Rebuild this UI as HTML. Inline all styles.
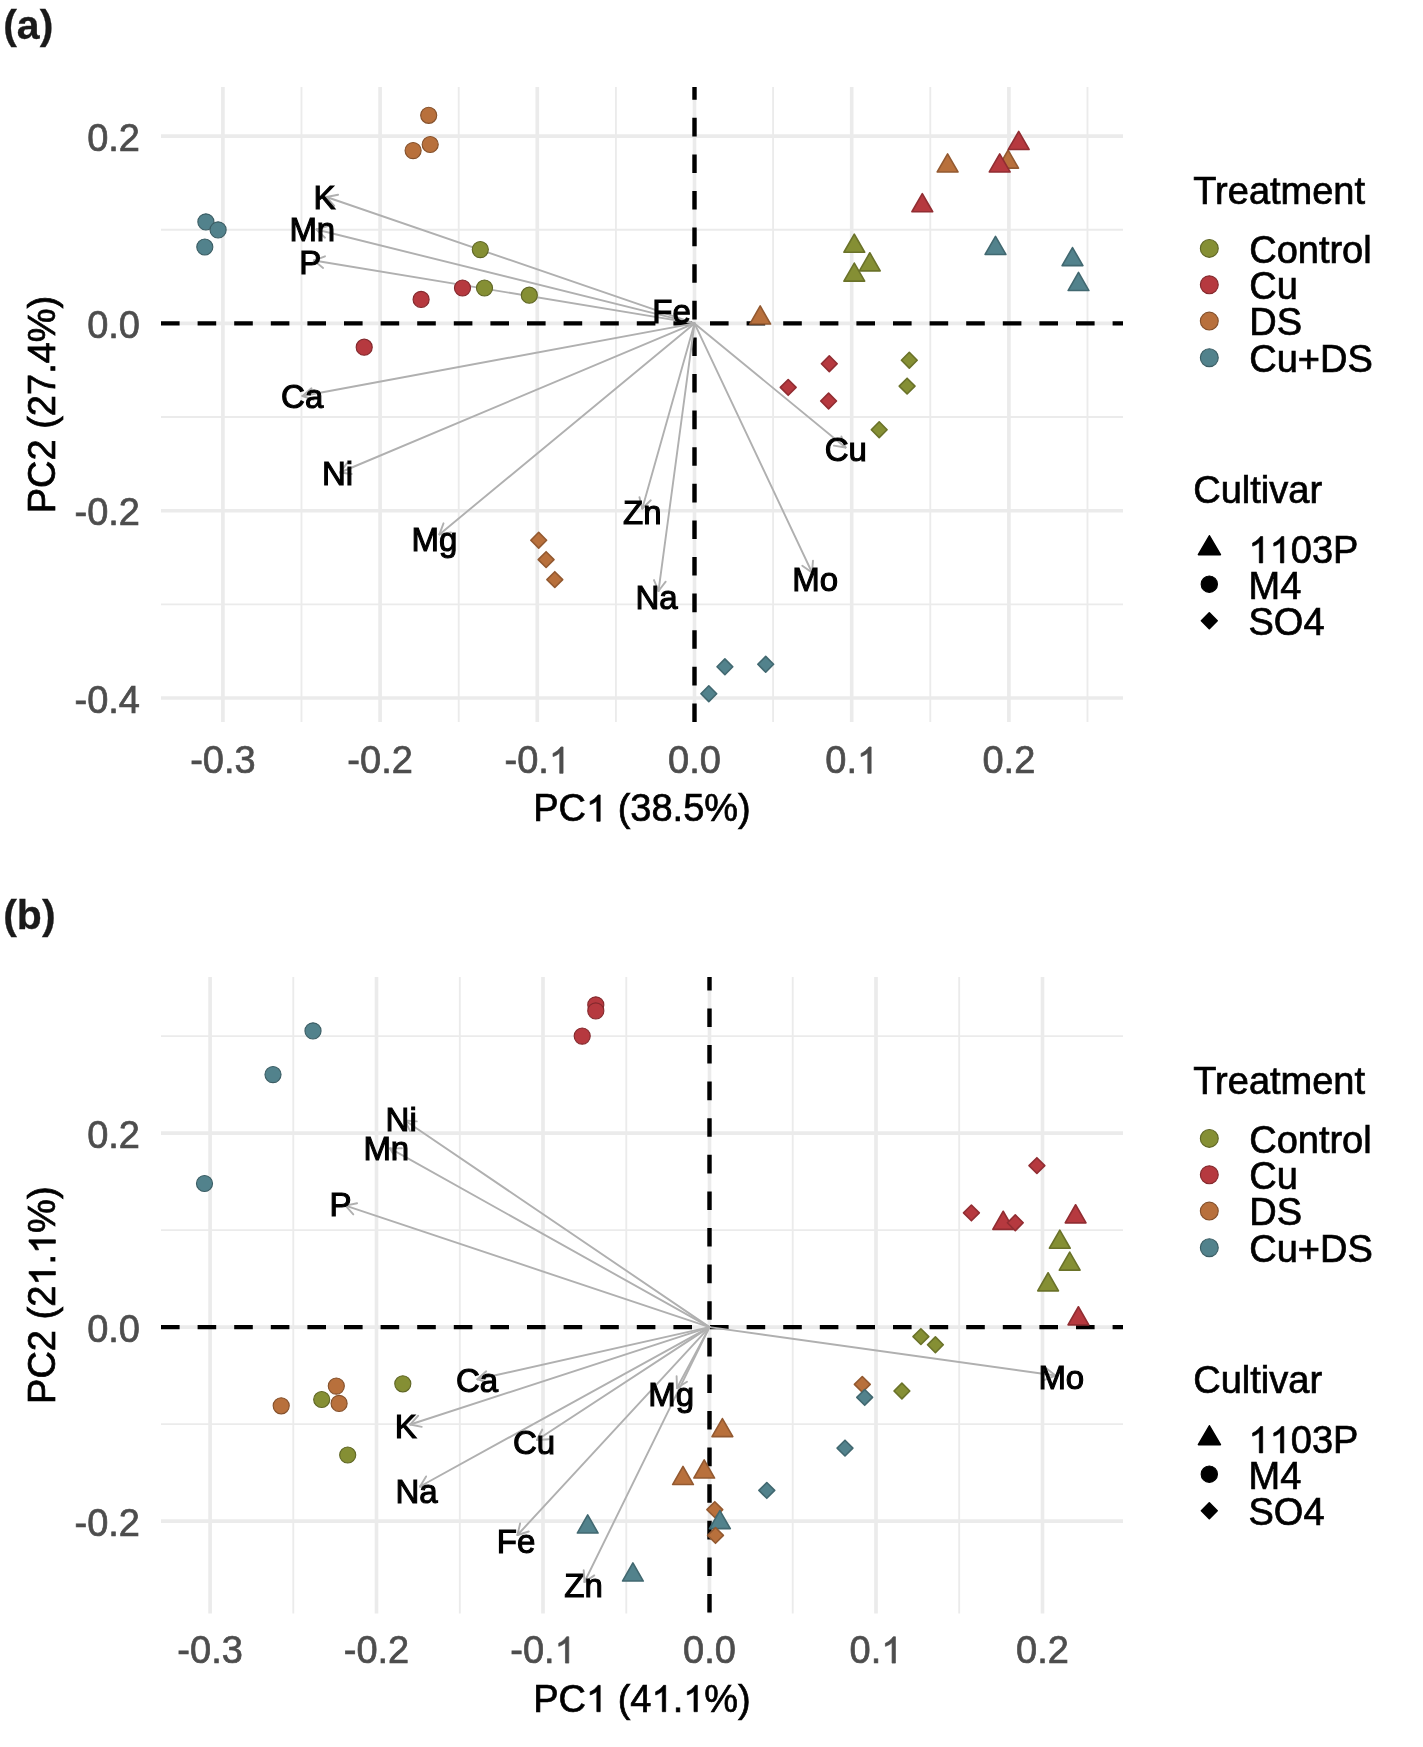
<!DOCTYPE html>
<html><head><meta charset="utf-8"><title>PCA biplots</title>
<style>html,body{margin:0;padding:0;background:#fff;}svg{display:block;will-change:transform;}
text{font-family:"Liberation Sans", sans-serif;white-space:pre;}</style></head>
<body>
<svg width="1423" height="1747" viewBox="0 0 1423 1747" font-family='"Liberation Sans", sans-serif'>
<rect width="1423" height="1747" fill="#fff"/>
<g stroke="#ebebeb" stroke-width="1.85">
<line x1="301.5" y1="87" x2="301.5" y2="722"/>
<line x1="458.7" y1="87" x2="458.7" y2="722"/>
<line x1="615.9" y1="87" x2="615.9" y2="722"/>
<line x1="773.1" y1="87" x2="773.1" y2="722"/>
<line x1="930.3" y1="87" x2="930.3" y2="722"/>
<line x1="1087.5" y1="87" x2="1087.5" y2="722"/>
<line x1="161" y1="229.7" x2="1123" y2="229.7"/>
<line x1="161" y1="417.0" x2="1123" y2="417.0"/>
<line x1="161" y1="604.3" x2="1123" y2="604.3"/>
</g>
<g stroke="#ebebeb" stroke-width="3.65">
<line x1="222.9" y1="87" x2="222.9" y2="722"/>
<line x1="380.1" y1="87" x2="380.1" y2="722"/>
<line x1="537.3" y1="87" x2="537.3" y2="722"/>
<line x1="694.5" y1="87" x2="694.5" y2="722"/>
<line x1="851.7" y1="87" x2="851.7" y2="722"/>
<line x1="1008.9" y1="87" x2="1008.9" y2="722"/>
<line x1="161" y1="136.1" x2="1123" y2="136.1"/>
<line x1="161" y1="323.4" x2="1123" y2="323.4"/>
<line x1="161" y1="510.7" x2="1123" y2="510.7"/>
<line x1="161" y1="698.0" x2="1123" y2="698.0"/>
</g>
<g stroke="#000" stroke-width="4.4" stroke-dasharray="18.6 18.0">
<line x1="161" y1="323.4" x2="1123" y2="323.4"/>
<line x1="694.5" y1="722" x2="694.5" y2="87" stroke-dashoffset="0"/>
</g>
<g stroke="#b0b0b0" stroke-width="1.9" fill="none" stroke-linecap="round">
<line x1="694.5" y1="323.4" x2="326.5" y2="197.0"/>
<line x1="326.5" y1="197.0" x2="338.1" y2="194.7"/>
<line x1="326.5" y1="197.0" x2="334.2" y2="205.9"/>
<line x1="694.5" y1="323.4" x2="316.5" y2="229.5"/>
<line x1="316.5" y1="229.5" x2="327.8" y2="226.2"/>
<line x1="316.5" y1="229.5" x2="325.0" y2="237.7"/>
<line x1="694.5" y1="323.4" x2="314.0" y2="260.5"/>
<line x1="314.0" y1="260.5" x2="325.0" y2="256.3"/>
<line x1="314.0" y1="260.5" x2="323.1" y2="268.0"/>
<line x1="694.5" y1="323.4" x2="302.5" y2="396.0"/>
<line x1="302.5" y1="396.0" x2="311.5" y2="388.3"/>
<line x1="302.5" y1="396.0" x2="313.6" y2="399.9"/>
<line x1="694.5" y1="323.4" x2="340.0" y2="472.5"/>
<line x1="340.0" y1="472.5" x2="347.1" y2="463.1"/>
<line x1="340.0" y1="472.5" x2="351.7" y2="474.0"/>
<line x1="694.5" y1="323.4" x2="439.4" y2="534.4"/>
<line x1="439.4" y1="534.4" x2="443.5" y2="523.3"/>
<line x1="439.4" y1="534.4" x2="451.0" y2="532.4"/>
<line x1="694.5" y1="323.4" x2="642.3" y2="508.5"/>
<line x1="642.3" y1="508.5" x2="639.4" y2="497.1"/>
<line x1="642.3" y1="508.5" x2="650.8" y2="500.3"/>
<line x1="694.5" y1="323.4" x2="658.5" y2="591.0"/>
<line x1="658.5" y1="591.0" x2="654.0" y2="580.1"/>
<line x1="658.5" y1="591.0" x2="665.7" y2="581.7"/>
<line x1="694.5" y1="323.4" x2="845.5" y2="447.5"/>
<line x1="845.5" y1="447.5" x2="833.9" y2="445.6"/>
<line x1="845.5" y1="447.5" x2="841.4" y2="436.5"/>
<line x1="694.5" y1="323.4" x2="812.0" y2="572.5"/>
<line x1="812.0" y1="572.5" x2="802.3" y2="565.8"/>
<line x1="812.0" y1="572.5" x2="813.0" y2="560.7"/>
</g>
<circle cx="428.7" cy="115.3" r="8.05" fill="#b8703c" stroke="#84502b" stroke-width="1.1"/>
<circle cx="430.2" cy="144.5" r="8.05" fill="#b8703c" stroke="#84502b" stroke-width="1.1"/>
<circle cx="413.1" cy="150.6" r="8.05" fill="#b8703c" stroke="#84502b" stroke-width="1.1"/>
<circle cx="205.9" cy="221.9" r="8.05" fill="#52828c" stroke="#3b5d64" stroke-width="1.1"/>
<circle cx="218.1" cy="229.9" r="8.05" fill="#52828c" stroke="#3b5d64" stroke-width="1.1"/>
<circle cx="204.8" cy="247.0" r="8.05" fill="#52828c" stroke="#3b5d64" stroke-width="1.1"/>
<circle cx="480.3" cy="249.6" r="8.05" fill="#858f34" stroke="#5f6625" stroke-width="1.1"/>
<circle cx="484.5" cy="288.0" r="8.05" fill="#858f34" stroke="#5f6625" stroke-width="1.1"/>
<circle cx="529.3" cy="295.2" r="8.05" fill="#858f34" stroke="#5f6625" stroke-width="1.1"/>
<circle cx="462.5" cy="288.0" r="8.05" fill="#b6393f" stroke="#83292d" stroke-width="1.1"/>
<circle cx="421.1" cy="299.4" r="8.05" fill="#b6393f" stroke="#83292d" stroke-width="1.1"/>
<circle cx="364.2" cy="347.2" r="8.05" fill="#b6393f" stroke="#83292d" stroke-width="1.1"/>
<polygon points="1008.10,150.05 1018.50,168.15 997.70,168.15" fill="#b8703c" stroke="#935930" stroke-width="1.6" stroke-linejoin="round"/>
<polygon points="947.60,153.85 958.00,171.95 937.20,171.95" fill="#b8703c" stroke="#935930" stroke-width="1.6" stroke-linejoin="round"/>
<polygon points="760.20,305.95 770.60,324.05 749.80,324.05" fill="#b8703c" stroke="#935930" stroke-width="1.6" stroke-linejoin="round"/>
<polygon points="1018.70,131.35 1029.10,149.45 1008.30,149.45" fill="#b6393f" stroke="#912d32" stroke-width="1.6" stroke-linejoin="round"/>
<polygon points="999.70,153.85 1010.10,171.95 989.30,171.95" fill="#b6393f" stroke="#912d32" stroke-width="1.6" stroke-linejoin="round"/>
<polygon points="922.30,193.65 932.70,211.75 911.90,211.75" fill="#b6393f" stroke="#912d32" stroke-width="1.6" stroke-linejoin="round"/>
<polygon points="854.30,234.15 864.70,252.25 843.90,252.25" fill="#858f34" stroke="#6a7229" stroke-width="1.6" stroke-linejoin="round"/>
<polygon points="869.80,252.75 880.20,270.85 859.40,270.85" fill="#858f34" stroke="#6a7229" stroke-width="1.6" stroke-linejoin="round"/>
<polygon points="854.30,263.05 864.70,281.15 843.90,281.15" fill="#858f34" stroke="#6a7229" stroke-width="1.6" stroke-linejoin="round"/>
<polygon points="995.50,236.35 1005.90,254.45 985.10,254.45" fill="#52828c" stroke="#416870" stroke-width="1.6" stroke-linejoin="round"/>
<polygon points="1072.50,247.55 1082.90,265.65 1062.10,265.65" fill="#52828c" stroke="#416870" stroke-width="1.6" stroke-linejoin="round"/>
<polygon points="1078.50,272.45 1088.90,290.55 1068.10,290.55" fill="#52828c" stroke="#416870" stroke-width="1.6" stroke-linejoin="round"/>
<polygon points="829.30,355.80 837.20,363.70 829.30,371.60 821.40,363.70" fill="#b6393f" stroke="#912d32" stroke-width="1.6" stroke-linejoin="round"/>
<polygon points="788.20,379.50 796.10,387.40 788.20,395.30 780.30,387.40" fill="#b6393f" stroke="#912d32" stroke-width="1.6" stroke-linejoin="round"/>
<polygon points="828.60,393.10 836.50,401.00 828.60,408.90 820.70,401.00" fill="#b6393f" stroke="#912d32" stroke-width="1.6" stroke-linejoin="round"/>
<polygon points="909.30,352.30 917.20,360.20 909.30,368.10 901.40,360.20" fill="#858f34" stroke="#6a7229" stroke-width="1.6" stroke-linejoin="round"/>
<polygon points="907.10,378.20 915.00,386.10 907.10,394.00 899.20,386.10" fill="#858f34" stroke="#6a7229" stroke-width="1.6" stroke-linejoin="round"/>
<polygon points="879.20,421.80 887.10,429.70 879.20,437.60 871.30,429.70" fill="#858f34" stroke="#6a7229" stroke-width="1.6" stroke-linejoin="round"/>
<polygon points="538.70,532.30 546.60,540.20 538.70,548.10 530.80,540.20" fill="#b8703c" stroke="#935930" stroke-width="1.6" stroke-linejoin="round"/>
<polygon points="546.10,551.70 554.00,559.60 546.10,567.50 538.20,559.60" fill="#b8703c" stroke="#935930" stroke-width="1.6" stroke-linejoin="round"/>
<polygon points="554.80,571.70 562.70,579.60 554.80,587.50 546.90,579.60" fill="#b8703c" stroke="#935930" stroke-width="1.6" stroke-linejoin="round"/>
<polygon points="724.90,658.90 732.80,666.80 724.90,674.70 717.00,666.80" fill="#52828c" stroke="#416870" stroke-width="1.6" stroke-linejoin="round"/>
<polygon points="765.70,656.40 773.60,664.30 765.70,672.20 757.80,664.30" fill="#52828c" stroke="#416870" stroke-width="1.6" stroke-linejoin="round"/>
<polygon points="708.80,685.80 716.70,693.70 708.80,701.60 700.90,693.70" fill="#52828c" stroke="#416870" stroke-width="1.6" stroke-linejoin="round"/>
<g font-size="33">
<text x="324.5" y="209.0" font-size="33" fill="#000" stroke="#000" stroke-width="1.1" text-anchor="middle" font-weight="normal" >K</text>
<text x="312.3" y="241.3" font-size="33" fill="#000" stroke="#000" stroke-width="1.1" text-anchor="middle" font-weight="normal" >Mn</text>
<text x="310.2" y="273.5" font-size="33" fill="#000" stroke="#000" stroke-width="1.1" text-anchor="middle" font-weight="normal" >P</text>
<text x="302.2" y="408.0" font-size="33" fill="#000" stroke="#000" stroke-width="1.1" text-anchor="middle" font-weight="normal" >Ca</text>
<text x="337.5" y="485.0" font-size="33" fill="#000" stroke="#000" stroke-width="1.1" text-anchor="middle" font-weight="normal" >Ni</text>
<text x="434.5" y="551.2" font-size="33" fill="#000" stroke="#000" stroke-width="1.1" text-anchor="middle" font-weight="normal" >Mg</text>
<text x="642.3" y="523.7" font-size="33" fill="#000" stroke="#000" stroke-width="1.1" text-anchor="middle" font-weight="normal" >Zn</text>
<text x="656.5" y="608.6" font-size="33" fill="#000" stroke="#000" stroke-width="1.1" text-anchor="middle" font-weight="normal" >Na</text>
<text x="845.8" y="460.5" font-size="33" fill="#000" stroke="#000" stroke-width="1.1" text-anchor="middle" font-weight="normal" >Cu</text>
<text x="815.2" y="590.5" font-size="33" fill="#000" stroke="#000" stroke-width="1.1" text-anchor="middle" font-weight="normal" >Mo</text>
<text x="671.5" y="323.4" font-size="33" fill="#000" stroke="#000" stroke-width="1.1" text-anchor="middle" font-weight="normal" >Fe</text>
</g>
<text x="222.9" y="773.3" font-size="38" fill="#4d4d4d" stroke="#4d4d4d" stroke-width="0.7" text-anchor="middle" font-weight="normal" >-0.3</text>
<text x="380.1" y="773.3" font-size="38" fill="#4d4d4d" stroke="#4d4d4d" stroke-width="0.7" text-anchor="middle" font-weight="normal" >-0.2</text>
<g ><text x="504.56" y="773.3" font-size="38" fill="#4d4d4d" stroke="#4d4d4d" stroke-width="0.7" text-anchor="start">-0.</text><polygon points="563.06,773.30 559.72,773.30 559.72,752.76 558.93,753.50 557.81,754.27 556.33,755.16 555.03,755.81 553.92,756.24 553.04,756.50 553.04,753.39 554.47,752.71 555.96,751.85 557.44,750.74 558.74,749.58 559.85,748.32 560.91,746.94 563.06,746.94" fill="#4d4d4d" stroke="#4d4d4d" stroke-width="0.7" stroke-linejoin="round"/></g>
<text x="694.5" y="773.3" font-size="38" fill="#4d4d4d" stroke="#4d4d4d" stroke-width="0.7" text-anchor="middle" font-weight="normal" >0.0</text>
<g ><text x="825.29" y="773.3" font-size="38" fill="#4d4d4d" stroke="#4d4d4d" stroke-width="0.7" text-anchor="start">0.</text><polygon points="871.14,773.30 867.80,773.30 867.80,752.76 867.00,753.50 865.89,754.27 864.40,755.16 863.10,755.81 861.99,756.24 861.12,756.50 861.12,753.39 862.55,752.71 864.03,751.85 865.51,750.74 866.81,749.58 867.93,748.32 868.98,746.94 871.14,746.94" fill="#4d4d4d" stroke="#4d4d4d" stroke-width="0.7" stroke-linejoin="round"/></g>
<text x="1008.9" y="773.3" font-size="38" fill="#4d4d4d" stroke="#4d4d4d" stroke-width="0.7" text-anchor="middle" font-weight="normal" >0.2</text>
<text x="140.0" y="150.8" font-size="38" fill="#4d4d4d" stroke="#4d4d4d" stroke-width="0.7" text-anchor="end" font-weight="normal" >0.2</text>
<text x="140.0" y="338.1" font-size="38" fill="#4d4d4d" stroke="#4d4d4d" stroke-width="0.7" text-anchor="end" font-weight="normal" >0.0</text>
<text x="140.0" y="525.4" font-size="38" fill="#4d4d4d" stroke="#4d4d4d" stroke-width="0.7" text-anchor="end" font-weight="normal" >-0.2</text>
<text x="140.0" y="712.7" font-size="38" fill="#4d4d4d" stroke="#4d4d4d" stroke-width="0.7" text-anchor="end" font-weight="normal" >-0.4</text>
<g ><text x="533.23" y="821.3" font-size="38" fill="#000" stroke="#000" stroke-width="0.7" text-anchor="start">PC</text><polygon points="600.18,821.30 596.84,821.30 596.84,800.76 596.04,801.50 594.93,802.27 593.44,803.16 592.14,803.81 591.03,804.24 590.16,804.50 590.16,801.39 591.59,800.71 593.07,799.85 594.56,798.74 595.85,797.58 596.97,796.32 598.03,794.94 600.18,794.94" fill="#000" stroke="#000" stroke-width="0.7" stroke-linejoin="round"/><text x="607.15" y="821.3" font-size="38" fill="#000" stroke="#000" stroke-width="0.7" text-anchor="start"> (38.5%)</text></g>
<text x="55.4" y="404.5" font-size="38" fill="#000" stroke="#000" stroke-width="0.7" text-anchor="middle" font-weight="normal" transform="rotate(-90 55.4 404.5)">PC2 (27.4%)</text>
<text x="3.2" y="38.6" font-size="41" fill="#1a1a1a" stroke="#1a1a1a" stroke-width="0.3" text-anchor="start" font-weight="bold" >(a)</text>
<text x="1193.3" y="203.6" font-size="38" fill="#000" stroke="#000" stroke-width="0.7" text-anchor="start" font-weight="normal" >Treatment</text>
<circle cx="1209.3" cy="248.4" r="8.95" fill="#858f34" stroke="#5f6625" stroke-width="1.1"/>
<text x="1249.2" y="262.8" font-size="38" fill="#000" stroke="#000" stroke-width="0.7" text-anchor="start" font-weight="normal" >Control</text>
<circle cx="1209.3" cy="284.8" r="8.95" fill="#b6393f" stroke="#83292d" stroke-width="1.1"/>
<text x="1249.2" y="299.2" font-size="38" fill="#000" stroke="#000" stroke-width="0.7" text-anchor="start" font-weight="normal" >Cu</text>
<circle cx="1209.3" cy="321.1" r="8.95" fill="#b8703c" stroke="#84502b" stroke-width="1.1"/>
<text x="1249.2" y="335.1" font-size="38" fill="#000" stroke="#000" stroke-width="0.7" text-anchor="start" font-weight="normal" >DS</text>
<circle cx="1209.3" cy="357.7" r="8.95" fill="#52828c" stroke="#3b5d64" stroke-width="1.1"/>
<text x="1249.2" y="372.0" font-size="38" fill="#000" stroke="#000" stroke-width="0.7" text-anchor="start" font-weight="normal" >Cu+DS</text>
<text x="1193.3" y="503.0" font-size="38" fill="#000" stroke="#000" stroke-width="0.7" text-anchor="start" font-weight="normal" >Cultivar</text>
<polygon points="1209.40,535.80 1220.40,554.60 1198.40,554.60" fill="#000" stroke="#000" stroke-width="1.6" stroke-linejoin="round"/>
<circle cx="1209.3" cy="584.2" r="8.15" fill="#000" stroke="#000" stroke-width="1.1"/>
<polygon points="1209.30,612.80 1217.20,620.70 1209.30,628.60 1201.40,620.70" fill="#000" stroke="#000" stroke-width="1.6" stroke-linejoin="round"/>
<g ><polygon points="1262.66,562.90 1259.32,562.90 1259.32,542.36 1258.52,543.10 1257.41,543.87 1255.92,544.76 1254.62,545.41 1253.51,545.84 1252.64,546.10 1252.64,542.99 1254.07,542.31 1255.55,541.45 1257.04,540.34 1258.33,539.18 1259.45,537.92 1260.50,536.54 1262.66,536.54" fill="#000" stroke="#000" stroke-width="0.7" stroke-linejoin="round"/><polygon points="1283.79,562.90 1280.45,562.90 1280.45,542.36 1279.65,543.10 1278.54,543.87 1277.06,544.76 1275.76,545.41 1274.64,545.84 1273.77,546.10 1273.77,542.99 1275.20,542.31 1276.68,541.45 1278.17,540.34 1279.47,539.18 1280.58,537.92 1281.64,536.54 1283.79,536.54" fill="#000" stroke="#000" stroke-width="0.7" stroke-linejoin="round"/><text x="1290.77" y="562.9" font-size="38" fill="#000" stroke="#000" stroke-width="0.7" text-anchor="start">03P</text></g>
<text x="1248.5" y="599.0" font-size="38" fill="#000" stroke="#000" stroke-width="0.7" text-anchor="start" font-weight="normal" >M4</text>
<text x="1248.5" y="634.9" font-size="38" fill="#000" stroke="#000" stroke-width="0.7" text-anchor="start" font-weight="normal" >SO4</text>
<g stroke="#ebebeb" stroke-width="1.85">
<line x1="293.3" y1="977" x2="293.3" y2="1613.4"/>
<line x1="459.8" y1="977" x2="459.8" y2="1613.4"/>
<line x1="626.3" y1="977" x2="626.3" y2="1613.4"/>
<line x1="792.7" y1="977" x2="792.7" y2="1613.4"/>
<line x1="959.2" y1="977" x2="959.2" y2="1613.4"/>
<line x1="161" y1="1036.1" x2="1123" y2="1036.1"/>
<line x1="161" y1="1230.1" x2="1123" y2="1230.1"/>
<line x1="161" y1="1424.1" x2="1123" y2="1424.1"/>
</g>
<g stroke="#ebebeb" stroke-width="3.65">
<line x1="210.1" y1="977" x2="210.1" y2="1613.4"/>
<line x1="376.5" y1="977" x2="376.5" y2="1613.4"/>
<line x1="543.0" y1="977" x2="543.0" y2="1613.4"/>
<line x1="709.5" y1="977" x2="709.5" y2="1613.4"/>
<line x1="876.0" y1="977" x2="876.0" y2="1613.4"/>
<line x1="1042.5" y1="977" x2="1042.5" y2="1613.4"/>
<line x1="161" y1="1133.1" x2="1123" y2="1133.1"/>
<line x1="161" y1="1327.1" x2="1123" y2="1327.1"/>
<line x1="161" y1="1521.1" x2="1123" y2="1521.1"/>
</g>
<g stroke="#000" stroke-width="4.4" stroke-dasharray="18.6 18.0">
<line x1="161" y1="1327.1" x2="1123" y2="1327.1"/>
<line x1="709.5" y1="1613.4" x2="709.5" y2="977" stroke-dashoffset="-0.8"/>
</g>
<g stroke="#b0b0b0" stroke-width="1.9" fill="none" stroke-linecap="round">
<line x1="709.5" y1="1327.1" x2="405.0" y2="1120.5"/>
<line x1="405.0" y1="1120.5" x2="416.8" y2="1121.4"/>
<line x1="405.0" y1="1120.5" x2="410.1" y2="1131.1"/>
<line x1="709.5" y1="1327.1" x2="390.0" y2="1148.4"/>
<line x1="390.0" y1="1148.4" x2="401.8" y2="1148.2"/>
<line x1="390.0" y1="1148.4" x2="396.0" y2="1158.5"/>
<line x1="709.5" y1="1327.1" x2="345.5" y2="1205.6"/>
<line x1="345.5" y1="1205.6" x2="357.1" y2="1203.2"/>
<line x1="345.5" y1="1205.6" x2="353.3" y2="1214.4"/>
<line x1="709.5" y1="1327.1" x2="477.5" y2="1379.3"/>
<line x1="477.5" y1="1379.3" x2="486.2" y2="1371.3"/>
<line x1="477.5" y1="1379.3" x2="488.8" y2="1382.8"/>
<line x1="709.5" y1="1327.1" x2="410.3" y2="1424.5"/>
<line x1="410.3" y1="1424.5" x2="418.2" y2="1415.7"/>
<line x1="410.3" y1="1424.5" x2="421.8" y2="1426.9"/>
<line x1="709.5" y1="1327.1" x2="537.0" y2="1440.0"/>
<line x1="537.0" y1="1440.0" x2="542.3" y2="1429.5"/>
<line x1="537.0" y1="1440.0" x2="548.8" y2="1439.3"/>
<line x1="709.5" y1="1327.1" x2="420.0" y2="1486.5"/>
<line x1="420.0" y1="1486.5" x2="426.1" y2="1476.4"/>
<line x1="420.0" y1="1486.5" x2="431.8" y2="1486.7"/>
<line x1="709.5" y1="1327.1" x2="677.0" y2="1388.0"/>
<line x1="677.0" y1="1388.0" x2="676.6" y2="1376.2"/>
<line x1="677.0" y1="1388.0" x2="687.0" y2="1381.8"/>
<line x1="709.5" y1="1327.1" x2="517.5" y2="1535.0"/>
<line x1="517.5" y1="1535.0" x2="520.1" y2="1523.5"/>
<line x1="517.5" y1="1535.0" x2="528.8" y2="1531.5"/>
<line x1="709.5" y1="1327.1" x2="584.5" y2="1582.0"/>
<line x1="584.5" y1="1582.0" x2="583.7" y2="1570.2"/>
<line x1="584.5" y1="1582.0" x2="594.3" y2="1575.4"/>
<line x1="709.5" y1="1327.1" x2="1055.5" y2="1375.5"/>
<line x1="1055.5" y1="1375.5" x2="1044.6" y2="1379.9"/>
<line x1="1055.5" y1="1375.5" x2="1046.2" y2="1368.2"/>
</g>
<circle cx="313.0" cy="1030.9" r="8.05" fill="#52828c" stroke="#3b5d64" stroke-width="1.1"/>
<circle cx="273.0" cy="1074.6" r="8.05" fill="#52828c" stroke="#3b5d64" stroke-width="1.1"/>
<circle cx="204.5" cy="1183.5" r="8.05" fill="#52828c" stroke="#3b5d64" stroke-width="1.1"/>
<circle cx="595.8" cy="1004.9" r="8.05" fill="#b6393f" stroke="#83292d" stroke-width="1.1"/>
<circle cx="595.8" cy="1010.9" r="8.05" fill="#b6393f" stroke="#83292d" stroke-width="1.1"/>
<circle cx="582.2" cy="1036.1" r="8.05" fill="#b6393f" stroke="#83292d" stroke-width="1.1"/>
<circle cx="281.2" cy="1405.8" r="8.05" fill="#b8703c" stroke="#84502b" stroke-width="1.1"/>
<circle cx="336.3" cy="1386.1" r="8.05" fill="#b8703c" stroke="#84502b" stroke-width="1.1"/>
<circle cx="339.1" cy="1403.4" r="8.05" fill="#b8703c" stroke="#84502b" stroke-width="1.1"/>
<circle cx="321.7" cy="1399.5" r="8.05" fill="#858f34" stroke="#5f6625" stroke-width="1.1"/>
<circle cx="402.8" cy="1383.8" r="8.05" fill="#858f34" stroke="#5f6625" stroke-width="1.1"/>
<circle cx="347.7" cy="1455.0" r="8.05" fill="#858f34" stroke="#5f6625" stroke-width="1.1"/>
<polygon points="1003.20,1211.25 1013.60,1229.35 992.80,1229.35" fill="#b6393f" stroke="#912d32" stroke-width="1.6" stroke-linejoin="round"/>
<polygon points="1075.60,1204.75 1086.00,1222.85 1065.20,1222.85" fill="#b6393f" stroke="#912d32" stroke-width="1.6" stroke-linejoin="round"/>
<polygon points="1078.40,1306.75 1088.80,1324.85 1068.00,1324.85" fill="#b6393f" stroke="#912d32" stroke-width="1.6" stroke-linejoin="round"/>
<polygon points="1059.80,1230.15 1070.20,1248.25 1049.40,1248.25" fill="#858f34" stroke="#6a7229" stroke-width="1.6" stroke-linejoin="round"/>
<polygon points="1069.70,1252.05 1080.10,1270.15 1059.30,1270.15" fill="#858f34" stroke="#6a7229" stroke-width="1.6" stroke-linejoin="round"/>
<polygon points="1048.10,1272.75 1058.50,1290.85 1037.70,1290.85" fill="#858f34" stroke="#6a7229" stroke-width="1.6" stroke-linejoin="round"/>
<polygon points="722.40,1418.55 732.80,1436.65 712.00,1436.65" fill="#b8703c" stroke="#935930" stroke-width="1.6" stroke-linejoin="round"/>
<polygon points="704.20,1459.95 714.60,1478.05 693.80,1478.05" fill="#b8703c" stroke="#935930" stroke-width="1.6" stroke-linejoin="round"/>
<polygon points="683.00,1466.45 693.40,1484.55 672.60,1484.55" fill="#b8703c" stroke="#935930" stroke-width="1.6" stroke-linejoin="round"/>
<polygon points="714.80,1501.70 722.70,1509.60 714.80,1517.50 706.90,1509.60" fill="#b8703c" stroke="#935930" stroke-width="1.6" stroke-linejoin="round"/>
<polygon points="587.70,1514.95 598.10,1533.05 577.30,1533.05" fill="#52828c" stroke="#416870" stroke-width="1.6" stroke-linejoin="round"/>
<polygon points="632.90,1562.95 643.30,1581.05 622.50,1581.05" fill="#52828c" stroke="#416870" stroke-width="1.6" stroke-linejoin="round"/>
<polygon points="719.90,1510.55 730.30,1528.65 709.50,1528.65" fill="#52828c" stroke="#416870" stroke-width="1.6" stroke-linejoin="round"/>
<polygon points="715.50,1527.50 723.40,1535.40 715.50,1543.30 707.60,1535.40" fill="#b8703c" stroke="#935930" stroke-width="1.6" stroke-linejoin="round"/>
<polygon points="1036.90,1157.70 1044.80,1165.60 1036.90,1173.50 1029.00,1165.60" fill="#b6393f" stroke="#912d32" stroke-width="1.6" stroke-linejoin="round"/>
<polygon points="971.40,1205.00 979.30,1212.90 971.40,1220.80 963.50,1212.90" fill="#b6393f" stroke="#912d32" stroke-width="1.6" stroke-linejoin="round"/>
<polygon points="1015.30,1214.90 1023.20,1222.80 1015.30,1230.70 1007.40,1222.80" fill="#b6393f" stroke="#912d32" stroke-width="1.6" stroke-linejoin="round"/>
<polygon points="920.90,1328.70 928.80,1336.60 920.90,1344.50 913.00,1336.60" fill="#858f34" stroke="#6a7229" stroke-width="1.6" stroke-linejoin="round"/>
<polygon points="935.40,1336.90 943.30,1344.80 935.40,1352.70 927.50,1344.80" fill="#858f34" stroke="#6a7229" stroke-width="1.6" stroke-linejoin="round"/>
<polygon points="901.90,1383.10 909.80,1391.00 901.90,1398.90 894.00,1391.00" fill="#858f34" stroke="#6a7229" stroke-width="1.6" stroke-linejoin="round"/>
<polygon points="862.30,1376.50 870.20,1384.40 862.30,1392.30 854.40,1384.40" fill="#b8703c" stroke="#935930" stroke-width="1.6" stroke-linejoin="round"/>
<polygon points="864.70,1389.50 872.60,1397.40 864.70,1405.30 856.80,1397.40" fill="#52828c" stroke="#416870" stroke-width="1.6" stroke-linejoin="round"/>
<polygon points="845.00,1440.20 852.90,1448.10 845.00,1456.00 837.10,1448.10" fill="#52828c" stroke="#416870" stroke-width="1.6" stroke-linejoin="round"/>
<polygon points="766.80,1482.50 774.70,1490.40 766.80,1498.30 758.90,1490.40" fill="#52828c" stroke="#416870" stroke-width="1.6" stroke-linejoin="round"/>
<g font-size="33">
<text x="401.2" y="1131.4" font-size="33" fill="#000" stroke="#000" stroke-width="1.1" text-anchor="middle" font-weight="normal" >Ni</text>
<text x="386.3" y="1159.5" font-size="33" fill="#000" stroke="#000" stroke-width="1.1" text-anchor="middle" font-weight="normal" >Mn</text>
<text x="340.4" y="1216.4" font-size="33" fill="#000" stroke="#000" stroke-width="1.1" text-anchor="middle" font-weight="normal" >P</text>
<text x="477.1" y="1391.5" font-size="33" fill="#000" stroke="#000" stroke-width="1.1" text-anchor="middle" font-weight="normal" >Ca</text>
<text x="405.8" y="1438.0" font-size="33" fill="#000" stroke="#000" stroke-width="1.1" text-anchor="middle" font-weight="normal" >K</text>
<text x="534.1" y="1453.5" font-size="33" fill="#000" stroke="#000" stroke-width="1.1" text-anchor="middle" font-weight="normal" >Cu</text>
<text x="416.5" y="1502.7" font-size="33" fill="#000" stroke="#000" stroke-width="1.1" text-anchor="middle" font-weight="normal" >Na</text>
<text x="671.2" y="1406.0" font-size="33" fill="#000" stroke="#000" stroke-width="1.1" text-anchor="middle" font-weight="normal" >Mg</text>
<text x="516.0" y="1552.8" font-size="33" fill="#000" stroke="#000" stroke-width="1.1" text-anchor="middle" font-weight="normal" >Fe</text>
<text x="583.5" y="1596.5" font-size="33" fill="#000" stroke="#000" stroke-width="1.1" text-anchor="middle" font-weight="normal" >Zn</text>
<text x="1061.3" y="1389.0" font-size="33" fill="#000" stroke="#000" stroke-width="1.1" text-anchor="middle" font-weight="normal" >Mo</text>
</g>
<text x="210.1" y="1663.1" font-size="38" fill="#4d4d4d" stroke="#4d4d4d" stroke-width="0.7" text-anchor="middle" font-weight="normal" >-0.3</text>
<text x="376.5" y="1663.1" font-size="38" fill="#4d4d4d" stroke="#4d4d4d" stroke-width="0.7" text-anchor="middle" font-weight="normal" >-0.2</text>
<g ><text x="510.28" y="1663.1" font-size="38" fill="#4d4d4d" stroke="#4d4d4d" stroke-width="0.7" text-anchor="start">-0.</text><polygon points="568.78,1663.10 565.44,1663.10 565.44,1642.56 564.65,1643.30 563.53,1644.07 562.05,1644.96 560.75,1645.61 559.64,1646.04 558.76,1646.30 558.76,1643.19 560.19,1642.51 561.68,1641.65 563.16,1640.54 564.46,1639.38 565.57,1638.12 566.63,1636.74 568.78,1636.74" fill="#4d4d4d" stroke="#4d4d4d" stroke-width="0.7" stroke-linejoin="round"/></g>
<text x="709.5" y="1663.1" font-size="38" fill="#4d4d4d" stroke="#4d4d4d" stroke-width="0.7" text-anchor="middle" font-weight="normal" >0.0</text>
<g ><text x="849.57" y="1663.1" font-size="38" fill="#4d4d4d" stroke="#4d4d4d" stroke-width="0.7" text-anchor="start">0.</text><polygon points="895.42,1663.10 892.08,1663.10 892.08,1642.56 891.28,1643.30 890.17,1644.07 888.68,1644.96 887.38,1645.61 886.27,1646.04 885.40,1646.30 885.40,1643.19 886.83,1642.51 888.31,1641.65 889.79,1640.54 891.09,1639.38 892.21,1638.12 893.26,1636.74 895.42,1636.74" fill="#4d4d4d" stroke="#4d4d4d" stroke-width="0.7" stroke-linejoin="round"/></g>
<text x="1042.5" y="1663.1" font-size="38" fill="#4d4d4d" stroke="#4d4d4d" stroke-width="0.7" text-anchor="middle" font-weight="normal" >0.2</text>
<text x="140.0" y="1147.8" font-size="38" fill="#4d4d4d" stroke="#4d4d4d" stroke-width="0.7" text-anchor="end" font-weight="normal" >0.2</text>
<text x="140.0" y="1341.8" font-size="38" fill="#4d4d4d" stroke="#4d4d4d" stroke-width="0.7" text-anchor="end" font-weight="normal" >0.0</text>
<text x="140.0" y="1535.8" font-size="38" fill="#4d4d4d" stroke="#4d4d4d" stroke-width="0.7" text-anchor="end" font-weight="normal" >-0.2</text>
<g ><text x="533.23" y="1711.7" font-size="38" fill="#000" stroke="#000" stroke-width="0.7" text-anchor="start">PC</text><polygon points="600.18,1711.70 596.84,1711.70 596.84,1691.16 596.04,1691.90 594.93,1692.67 593.44,1693.56 592.14,1694.21 591.03,1694.64 590.16,1694.90 590.16,1691.79 591.59,1691.11 593.07,1690.25 594.56,1689.14 595.85,1687.98 596.97,1686.72 598.03,1685.34 600.18,1685.34" fill="#000" stroke="#000" stroke-width="0.7" stroke-linejoin="round"/><text x="607.15" y="1711.7" font-size="38" fill="#000" stroke="#000" stroke-width="0.7" text-anchor="start"> (4</text><polygon points="665.66,1711.70 662.32,1711.70 662.32,1691.16 661.52,1691.90 660.41,1692.67 658.92,1693.56 657.62,1694.21 656.51,1694.64 655.64,1694.90 655.64,1691.79 657.07,1691.11 658.55,1690.25 660.04,1689.14 661.33,1687.98 662.45,1686.72 663.50,1685.34 665.66,1685.34" fill="#000" stroke="#000" stroke-width="0.7" stroke-linejoin="round"/><text x="672.63" y="1711.7" font-size="38" fill="#000" stroke="#000" stroke-width="0.7" text-anchor="start">.</text><polygon points="697.35,1711.70 694.01,1711.70 694.01,1691.16 693.21,1691.90 692.10,1692.67 690.61,1693.56 689.31,1694.21 688.20,1694.64 687.33,1694.90 687.33,1691.79 688.76,1691.11 690.24,1690.25 691.73,1689.14 693.03,1687.98 694.14,1686.72 695.20,1685.34 697.35,1685.34" fill="#000" stroke="#000" stroke-width="0.7" stroke-linejoin="round"/><text x="704.33" y="1711.7" font-size="38" fill="#000" stroke="#000" stroke-width="0.7" text-anchor="start">%)</text></g>
<g transform="rotate(-90 55.4 1295.2)"><text x="-53.37" y="1295.2" font-size="38" fill="#000" stroke="#000" stroke-width="0.7" text-anchor="start">PC2 (2</text><polygon points="79.06,1295.20 75.72,1295.20 75.72,1274.66 74.92,1275.40 73.81,1276.17 72.32,1277.06 71.02,1277.71 69.91,1278.14 69.04,1278.40 69.04,1275.29 70.47,1274.61 71.95,1273.75 73.44,1272.64 74.73,1271.48 75.85,1270.22 76.90,1268.84 79.06,1268.84" fill="#000" stroke="#000" stroke-width="0.7" stroke-linejoin="round"/><text x="86.03" y="1295.2" font-size="38" fill="#000" stroke="#000" stroke-width="0.7" text-anchor="start">.</text><polygon points="110.75,1295.20 107.41,1295.20 107.41,1274.66 106.61,1275.40 105.50,1276.17 104.01,1277.06 102.71,1277.71 101.60,1278.14 100.73,1278.40 100.73,1275.29 102.16,1274.61 103.64,1273.75 105.13,1272.64 106.43,1271.48 107.54,1270.22 108.60,1268.84 110.75,1268.84" fill="#000" stroke="#000" stroke-width="0.7" stroke-linejoin="round"/><text x="117.73" y="1295.2" font-size="38" fill="#000" stroke="#000" stroke-width="0.7" text-anchor="start">%)</text></g>
<text x="3.2" y="928.9" font-size="41" fill="#1a1a1a" stroke="#1a1a1a" stroke-width="0.3" text-anchor="start" font-weight="bold" >(b)</text>
<text x="1193.3" y="1093.6" font-size="38" fill="#000" stroke="#000" stroke-width="0.7" text-anchor="start" font-weight="normal" >Treatment</text>
<circle cx="1209.3" cy="1138.4" r="8.95" fill="#858f34" stroke="#5f6625" stroke-width="1.1"/>
<text x="1249.2" y="1152.8" font-size="38" fill="#000" stroke="#000" stroke-width="0.7" text-anchor="start" font-weight="normal" >Control</text>
<circle cx="1209.3" cy="1174.8" r="8.95" fill="#b6393f" stroke="#83292d" stroke-width="1.1"/>
<text x="1249.2" y="1189.2" font-size="38" fill="#000" stroke="#000" stroke-width="0.7" text-anchor="start" font-weight="normal" >Cu</text>
<circle cx="1209.3" cy="1211.1" r="8.95" fill="#b8703c" stroke="#84502b" stroke-width="1.1"/>
<text x="1249.2" y="1225.1" font-size="38" fill="#000" stroke="#000" stroke-width="0.7" text-anchor="start" font-weight="normal" >DS</text>
<circle cx="1209.3" cy="1247.7" r="8.95" fill="#52828c" stroke="#3b5d64" stroke-width="1.1"/>
<text x="1249.2" y="1262.0" font-size="38" fill="#000" stroke="#000" stroke-width="0.7" text-anchor="start" font-weight="normal" >Cu+DS</text>
<text x="1193.3" y="1393.0" font-size="38" fill="#000" stroke="#000" stroke-width="0.7" text-anchor="start" font-weight="normal" >Cultivar</text>
<polygon points="1209.40,1425.80 1220.40,1444.60 1198.40,1444.60" fill="#000" stroke="#000" stroke-width="1.6" stroke-linejoin="round"/>
<circle cx="1209.3" cy="1474.2" r="8.15" fill="#000" stroke="#000" stroke-width="1.1"/>
<polygon points="1209.30,1502.80 1217.20,1510.70 1209.30,1518.60 1201.40,1510.70" fill="#000" stroke="#000" stroke-width="1.6" stroke-linejoin="round"/>
<g ><polygon points="1262.66,1452.90 1259.32,1452.90 1259.32,1432.36 1258.52,1433.10 1257.41,1433.87 1255.92,1434.76 1254.62,1435.41 1253.51,1435.84 1252.64,1436.10 1252.64,1432.99 1254.07,1432.31 1255.55,1431.45 1257.04,1430.34 1258.33,1429.18 1259.45,1427.92 1260.50,1426.54 1262.66,1426.54" fill="#000" stroke="#000" stroke-width="0.7" stroke-linejoin="round"/><polygon points="1283.79,1452.90 1280.45,1452.90 1280.45,1432.36 1279.65,1433.10 1278.54,1433.87 1277.06,1434.76 1275.76,1435.41 1274.64,1435.84 1273.77,1436.10 1273.77,1432.99 1275.20,1432.31 1276.68,1431.45 1278.17,1430.34 1279.47,1429.18 1280.58,1427.92 1281.64,1426.54 1283.79,1426.54" fill="#000" stroke="#000" stroke-width="0.7" stroke-linejoin="round"/><text x="1290.77" y="1452.9" font-size="38" fill="#000" stroke="#000" stroke-width="0.7" text-anchor="start">03P</text></g>
<text x="1248.5" y="1489.0" font-size="38" fill="#000" stroke="#000" stroke-width="0.7" text-anchor="start" font-weight="normal" >M4</text>
<text x="1248.5" y="1524.9" font-size="38" fill="#000" stroke="#000" stroke-width="0.7" text-anchor="start" font-weight="normal" >SO4</text>
</svg>
</body></html>
